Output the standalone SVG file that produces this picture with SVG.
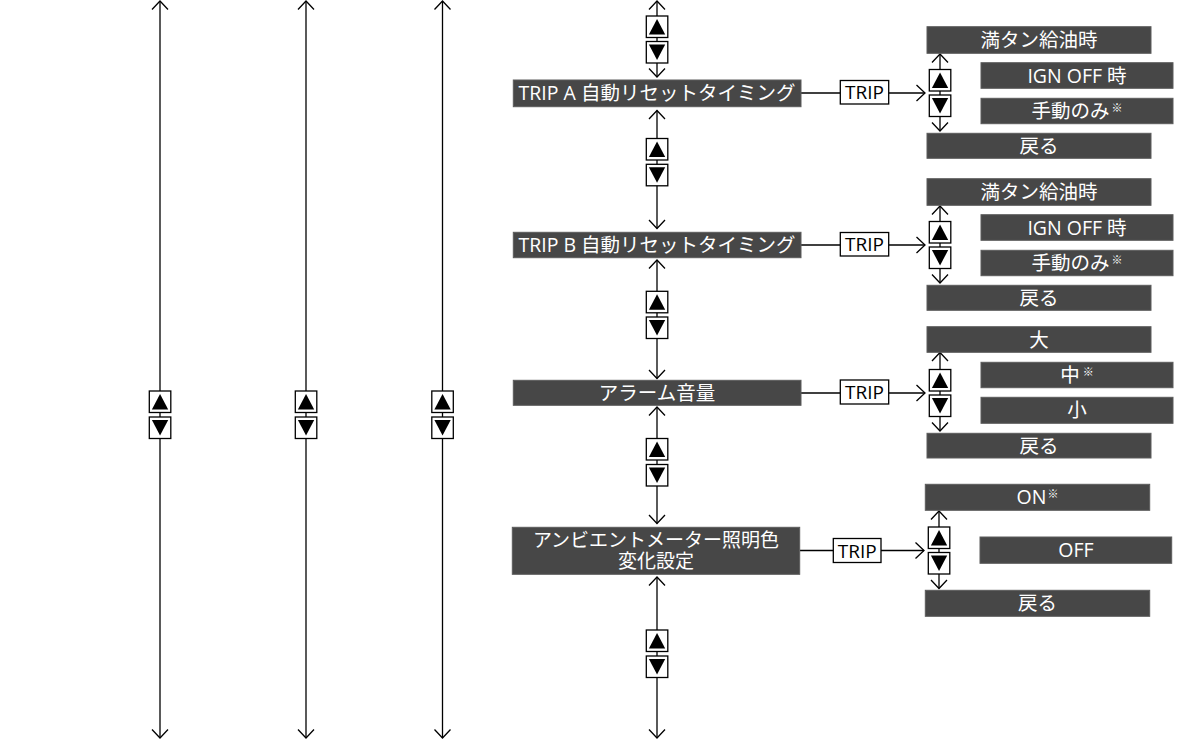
<svg xmlns="http://www.w3.org/2000/svg" xmlns:xlink="http://www.w3.org/1999/xlink" width="1193" height="739" viewBox="0 0 1193 739">
<style>
.ln{stroke:#000;stroke-width:1.3;fill:none}
.ar{stroke:#000;stroke-width:1.3;fill:none;marker-start:url(#ah);marker-end:url(#ah)}
.ae{stroke:#000;stroke-width:1.3;fill:none;marker-end:url(#ah)}
.nd{fill:#474747;stroke:#5c5c5c;stroke-width:1}
.nt{fill:#fff;font-family:"Open Sans","Noto Sans CJK JP",sans-serif;font-size:19.5px;text-anchor:middle}
.n2{fill:#fff;font-family:"Liberation Sans","Noto Sans CJK JP",sans-serif;font-size:19px;text-anchor:middle}
.tb{fill:#fff;stroke:#000;stroke-width:1.3}
.tt{fill:#000;font-family:"Open Sans","Noto Sans CJK JP",sans-serif;font-size:19px;text-anchor:middle}
.sup{font-size:11px}
</style>
<defs>
<marker id="ah" viewBox="-10 -10 20 20" refX="0" refY="0" markerWidth="20" markerHeight="20" markerUnits="userSpaceOnUse" orient="auto-start-reverse">
<path d="M-8.5,-8 L0,0 L-8.5,8" fill="none" stroke="#000" stroke-width="1.3"/>
</marker>
<g id="ub"><rect x="0" y="0" width="21.5" height="21.5" fill="#fff" stroke="#000" stroke-width="1.3"/><path d="M2.6,18.5 L18.9,18.5 L10.75,3 Z" fill="#000"/></g>
<g id="db"><rect x="0" y="0" width="21.5" height="21.5" fill="#fff" stroke="#000" stroke-width="1.3"/><path d="M2.6,3 L18.9,3 L10.75,18.5 Z" fill="#000"/></g>
</defs>
<rect width="1193" height="739" fill="#fff"/>

<g id="connectors">
<line class="ar" x1="160" y1="1" x2="160" y2="738"/>
<line class="ar" x1="306" y1="1" x2="306" y2="738"/>
<line class="ar" x1="442.5" y1="1" x2="442.5" y2="738"/>
<line class="ar" x1="657" y1="1" x2="657" y2="77"/>
<line class="ar" x1="657" y1="110.5" x2="657" y2="228.5"/>
<line class="ar" x1="657" y1="260" x2="657" y2="378.5"/>
<line class="ar" x1="657" y1="407" x2="657" y2="523.5"/>
<line class="ar" x1="657" y1="577" x2="657" y2="738"/>
<line class="ln" x1="801" y1="93" x2="840.3" y2="93"/>
<line class="ae" x1="888.7" y1="93" x2="925" y2="93"/>
<line class="ln" x1="801" y1="245" x2="840.3" y2="245"/>
<line class="ae" x1="888.7" y1="245" x2="925" y2="245"/>
<line class="ln" x1="801" y1="393" x2="840.3" y2="393"/>
<line class="ae" x1="888.7" y1="393" x2="925" y2="393"/>
<line class="ln" x1="800" y1="550.5" x2="833.3" y2="550.5"/>
<line class="ae" x1="881" y1="550.5" x2="924" y2="550.5"/>
<line class="ar" x1="940" y1="54" x2="940" y2="131"/>
<line class="ar" x1="940" y1="206" x2="940" y2="283"/>
<line class="ar" x1="940" y1="352.5" x2="940" y2="431"/>
<line class="ar" x1="939" y1="511" x2="939" y2="588.5"/>
</g>

<g id="nav-buttons">
<use xlink:href="#ub" x="149.3" y="391"/><use xlink:href="#db" x="149.3" y="417"/>
<use xlink:href="#ub" x="295.3" y="391"/><use xlink:href="#db" x="295.3" y="417"/>
<use xlink:href="#ub" x="431.8" y="391"/><use xlink:href="#db" x="431.8" y="417"/>
<use xlink:href="#ub" x="646.3" y="16"/><use xlink:href="#db" x="646.3" y="41.5"/>
<use xlink:href="#ub" x="646.3" y="138.5"/><use xlink:href="#db" x="646.3" y="164.3"/>
<use xlink:href="#ub" x="646.3" y="291.3"/><use xlink:href="#db" x="646.3" y="317"/>
<use xlink:href="#ub" x="646.3" y="438.5"/><use xlink:href="#db" x="646.3" y="464.5"/>
<use xlink:href="#ub" x="646.3" y="630"/><use xlink:href="#db" x="646.3" y="656"/>
<use xlink:href="#ub" x="929.3" y="69.5"/><use xlink:href="#db" x="929.3" y="95"/>
<use xlink:href="#ub" x="929.3" y="221.5"/><use xlink:href="#db" x="929.3" y="247"/>
<use xlink:href="#ub" x="929.3" y="369.5"/><use xlink:href="#db" x="929.3" y="395"/>
<use xlink:href="#ub" x="928.3" y="527"/><use xlink:href="#db" x="928.3" y="552.5"/>
</g>

<g id="node-trip-a">
<rect class="nd" x="513.3" y="80" width="287.7" height="26.7"/>
<text class="nt" x="657" y="100.3">TRIP A 自動リセットタイミング</text>
</g>
<g id="trip-a-label"><rect class="tb" x="840.3" y="80.5" width="48.4" height="23.5"/><text class="tt" x="864.5" y="99">TRIP</text></g>
<g id="a-opt1"><rect class="nd" x="927" y="26.7" width="224" height="26.6"/><text class="nt" x="1039" y="47">満タン給油時</text></g>
<g id="a-opt2"><rect class="nd" x="981" y="62.7" width="192" height="25.6"/><text class="nt" x="1077" y="82.5">IGN OFF 時</text></g>
<g id="a-opt3"><rect class="nd" x="981" y="98.3" width="192" height="25.4"/><text class="nt" x="1077" y="118">手動のみ<tspan class="sup" dx="2" dy="-6">※</tspan></text></g>
<g id="a-back"><rect class="nd" x="927" y="133.3" width="224" height="25"/><text class="nt" x="1039" y="152.8">戻る</text></g>

<g id="node-trip-b">
<rect class="nd" x="513.3" y="232.3" width="287.7" height="25.4"/>
<text class="nt" x="657" y="252">TRIP B 自動リセットタイミング</text>
</g>
<g id="trip-b-label"><rect class="tb" x="840.3" y="232.5" width="48.4" height="23.5"/><text class="tt" x="864.5" y="251">TRIP</text></g>
<g id="b-opt1"><rect class="nd" x="927" y="178.7" width="224" height="26.6"/><text class="nt" x="1039" y="199">満タン給油時</text></g>
<g id="b-opt2"><rect class="nd" x="981" y="214.7" width="192" height="25.6"/><text class="nt" x="1077" y="234.5">IGN OFF 時</text></g>
<g id="b-opt3"><rect class="nd" x="981" y="250.3" width="192" height="25.4"/><text class="nt" x="1077" y="270">手動のみ<tspan class="sup" dx="2" dy="-6">※</tspan></text></g>
<g id="b-back"><rect class="nd" x="927" y="285.3" width="224" height="25"/><text class="nt" x="1039" y="304.8">戻る</text></g>

<g id="node-alarm">
<rect class="nd" x="513.3" y="380.3" width="287.7" height="25"/>
<text class="nt" x="657" y="400">アラーム音量</text>
</g>
<g id="alarm-trip-label"><rect class="tb" x="840.3" y="380" width="48.4" height="24"/><text class="tt" x="864.5" y="399">TRIP</text></g>
<g id="c-opt1"><rect class="nd" x="927" y="326.7" width="224" height="25.6"/><text class="nt" x="1039" y="346.5">大</text></g>
<g id="c-opt2"><rect class="nd" x="981" y="362.3" width="192" height="25.4"/><text class="nt" x="1077" y="382">中<tspan class="sup" dx="3" dy="-6">※</tspan></text></g>
<g id="c-opt3"><rect class="nd" x="981" y="397.3" width="192" height="26"/><text class="nt" x="1077" y="417.3">小</text></g>
<g id="c-back"><rect class="nd" x="927" y="433.3" width="224" height="24.7"/><text class="nt" x="1039" y="452.8">戻る</text></g>

<g id="node-ambient">
<rect class="nd" x="512.3" y="527.3" width="287.4" height="47"/>
<text class="n2" x="656" y="546.5"><tspan x="656" y="546.5">アンビエントメーター照明色</tspan><tspan x="656" y="568.3">変化設定</tspan></text>
</g>
<g id="ambient-trip-label"><rect class="tb" x="833.3" y="538.5" width="47.7" height="24"/><text class="tt" x="857.2" y="557.5">TRIP</text></g>
<g id="d-opt1"><rect class="nd" x="925.3" y="484.3" width="224.4" height="26"/><text class="nt" x="1037.5" y="504.3">ON<tspan class="sup" dx="1" dy="-6">※</tspan></text></g>
<g id="d-opt2"><rect class="nd" x="980" y="537" width="191.7" height="26.3"/><text class="nt" x="1076" y="557">OFF</text></g>
<g id="d-back"><rect class="nd" x="925.3" y="590.3" width="224.4" height="26"/><text class="nt" x="1037.5" y="610.3">戻る</text></g>
</svg>
